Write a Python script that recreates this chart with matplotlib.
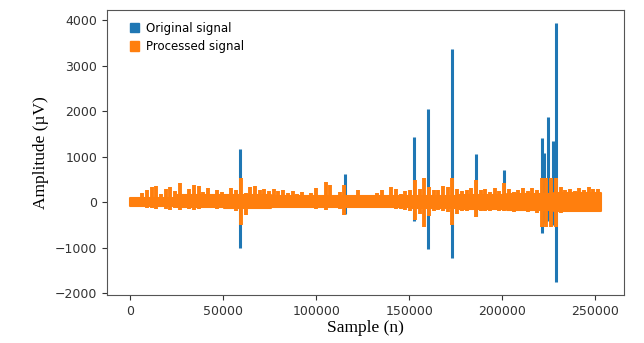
import numpy as np
import matplotlib
matplotlib.use("Agg")
import matplotlib.pyplot as plt
from matplotlib.patches import Patch

n_samples = 253000

# processed signal: local peaks per block of samples (µV)
proc_hi = [90, 110, 200, 260, 330, 350, 180, 285, 335, 240,
           415, 160, 300, 370, 360, 230, 310, 190, 270, 220,
           150, 320, 260, 525, 200, 330, 350, 280, 300, 250,
           290, 240, 260, 200, 250, 180, 230, 160, 210, 315,
           140, 445, 370, 160, 220, 370, 150, 130, 260, 140,
           160, 120, 200, 260, 140, 335, 300, 180, 250, 260,
           480, 300, 525, 330, 280, 260, 350, 330, 525, 300,
           250, 280, 320, 480, 260, 300, 220, 310, 250, 415,
           300, 230, 280, 310, 250, 320, 280, 525, 525, 525,
           525, 330, 280, 300, 250, 320, 280, 330, 300, 290]
proc_lo = [-50, -70, -100, -120, -130, -150, -110, -140, -170, -120,
           -160, -130, -150, -175, -140, -120, -130, -110, -140, -120,
           -100, -130, -200, -500, -270, -150, -130, -120, -140, -110,
           -120, -100, -130, -110, -120, -100, -130, -120, -110, -150,
           -130, -160, -120, -110, -140, -285, -120, -90, -100, -110,
           -110, -90, -100, -120, -100, -130, -150, -140, -170, -200,
           -395, -250, -540, -300, -180, -160, -200, -220, -500, -250,
           -180, -200, -170, -320, -190, -180, -200, -170, -190, -200,
           -180, -220, -200, -190, -210, -200, -240, -540, -540, -540,
           -540, -230, -200, -210, -190, -220, -200, -210, -200, -190]

# processed signal: dense core of the band, per tenth of the record (µV)
core_hi = [100, 150, 150, 140, 140, 130, 140, 170, 190, 200]
core_lo = [-70, -110, -120, -110, -110, -100, -120, -150, -170, -180]

# artefact spikes in the original signal
spike_n = [59000, 115600, 152800, 160400, 173300, 185800, 200900,
           221400, 222500, 224600, 227300, 229000]
spike_hi = [1180, 630, 1440, 2050, 3360, 1070, 720, 1420, 1090, 1880, 1350, 3940]
spike_lo = [-1000, -250, -400, -1030, -1230, -300, -150, -680, -450, -400, -500, -1750]

blue = "#1f77b4"
orange = "#ff7f0e"

block = n_samples / len(proc_hi)
centers = (np.arange(len(proc_hi)) + 0.5) * block
seg = n_samples / len(core_hi)
seg_edges = np.arange(len(core_hi) + 1) * seg

fig = plt.figure(figsize=(6.44, 3.43), dpi=100)
ax = fig.add_axes([0.166, 0.140, 0.803, 0.831])

ax.vlines(spike_n, spike_lo, spike_hi, color=blue, linewidth=2.2, zorder=2)
ax.fill_between(seg_edges, np.append(core_lo, core_lo[-1]),
                np.append(core_hi, core_hi[-1]), step="post",
                facecolor=orange, edgecolor=orange, linewidth=1.5, zorder=3)
ax.vlines(centers, proc_lo, proc_hi, color=orange, linewidth=2.8, zorder=3)

ax.set_xlim(-12650, 265650)
ax.set_ylim(-2035, 4225)
ax.set_xticks(np.arange(0, 250001, 50000))
ax.set_yticks(np.arange(-2000, 4001, 1000))
ax.tick_params(labelsize=9, colors="#333333", length=3.5)
for sp in ax.spines.values():
    sp.set_color("#555555")

ax.set_ylabel("Amplitude (µV)", family="Liberation Serif", fontsize=12.5, color="black")
ax.set_xlabel("Sample (n)", family="Liberation Serif", fontsize=12.5, color="black", labelpad=2)

handles = [Patch(color=blue, label="Original signal"),
           Patch(color=orange, label="Processed signal")]
ax.legend(handles=handles, loc="upper left", bbox_to_anchor=(0.035, 0.975),
          frameon=False, fontsize=8.5, handlelength=0.8, handleheight=0.8,
          handletextpad=0.6, borderaxespad=0, labelspacing=0.45)

fig.savefig("out.png", dpi=100)
